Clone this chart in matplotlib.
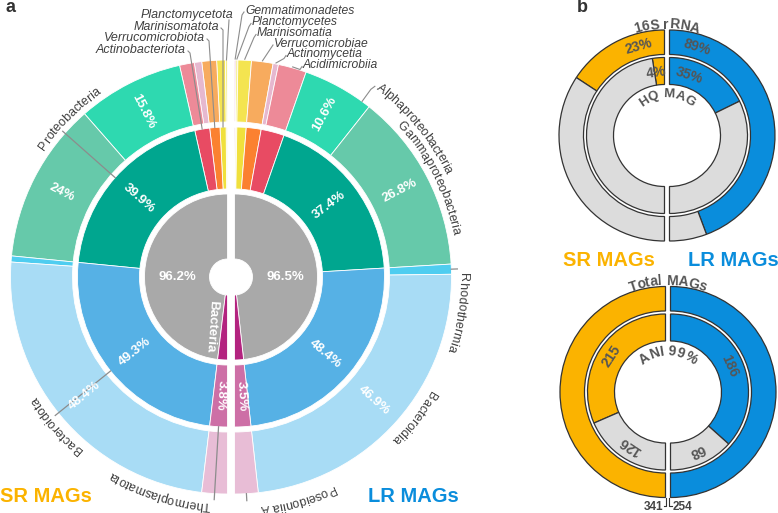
import numpy as np
import matplotlib
matplotlib.use('Agg')
import matplotlib.pyplot as plt
from matplotlib.patches import Wedge
from matplotlib.font_manager import FontProperties
from matplotlib.textpath import TextToPath

plt.rcParams['font.family'] = ['Liberation Sans', 'DejaVu Sans']

# ---------------- panel a : taxonomy of MAGs (% of MAGs) ----------------
domains = ['Bacteria', 'Archaea']
sr_domain = [96.2, 3.8]
lr_domain = [96.5, 3.5]

phyla = ['Gemmatimonadota', 'Planctomycetota', 'Marinisomatota', 'Verrucomicrobiota',
         'Actinobacteriota', 'Proteobacteria', 'Bacteroidota', 'Thermoplasmatota']
sr_phylum = [0.0, 0.3, 1.3, 2.2, 3.2, 39.9, 49.3, 3.8]
lr_phylum = [0.2, 0.3, 2.0, 3.2, 5.0, 37.4, 48.4, 3.5]

classes = ['Gemmatimonadetes', 'Planctomycetes', 'Marinisomatia', 'Verrucomicrobiae',
           'Actinomycetia', 'Acidimicrobiia', 'Alphaproteobacteria', 'Gammaproteobacteria',
           'Rhodothermia', 'Bacteroidia', 'Poseidoniia A']
sr_class = [0.0, 0.3, 1.3, 2.2, 1.1, 2.2, 15.8, 24.0, 0.9, 48.4, 3.8]
lr_class = [0.2, 0.3, 2.0, 3.2, 0.8, 4.2, 10.6, 26.8, 1.5, 46.9, 3.5]

domain_col = {'Bacteria': '#a9a9a9', 'Archaea': '#b3237f'}
phylum_col = {'Gemmatimonadota': '#d63c96', 'Planctomycetota': '#f3ee8c',
              'Marinisomatota': '#f0e03c', 'Verrucomicrobiota': '#fb8130',
              'Actinobacteriota': '#e84b63', 'Proteobacteria': '#00a68f',
              'Bacteroidota': '#56b1e5', 'Thermoplasmatota': '#cd6fa6'}
class_col = {'Gemmatimonadetes': '#d850a0', 'Planctomycetes': '#f3ee8c',
             'Marinisomatia': '#f4e450', 'Verrucomicrobiae': '#f7ab5e',
             'Actinomycetia': '#e6b8cf', 'Acidimicrobiia': '#ed8a98',
             'Alphaproteobacteria': '#2ed9b0', 'Gammaproteobacteria': '#66c9aa',
             'Rhodothermia': '#4fcdf0', 'Bacteroidia': '#a8dcf5', 'Poseidoniia A': '#e8bdd6'}

show_pct = {'Bacteria', 'Proteobacteria', 'Bacteroidota', 'Thermoplasmatota',
            'Alphaproteobacteria', 'Gammaproteobacteria', 'Bacteroidia'}

# ---------------- panel b : SR vs LR MAGs ----------------
rrna_sr = [31.5, 68.5]     # 16S rRNA recovered (drawn share), label 23%
rrna_lr = [88.6, 11.4]
hq_sr = [5, 95]            # HQ MAG
hq_lr = [35.5, 64.5]
rrna_txt = ['23%', '89%']
hq_txt = ['4%', '35%']
total_sr = [341]
total_lr = [254]
ani_sr = [215, 126]        # MAGs shared at ANI 99% / unique
ani_lr = [186, 68]

SR = '#fbb300'
LR = '#0a8ddc'
GREY = '#dcdcdc'
TXT = '#555555'

fig = plt.figure(figsize=(7.78, 5.13), dpi=100)
ax = fig.add_axes([0, 0, 1, 1])
ax.set_xlim(0, 778)
ax.set_ylim(0, 513)
ax.axis('off')

ttp = TextToPath()
PX = 100 / 72


def str_w(s, fp):
    w, _, _ = ttp.get_text_width_height_descent(s + '|', fp, ismath=False)
    w0, _, _ = ttp.get_text_width_height_descent('|', fp, ismath=False)
    return (w - w0) * PX


def arc_text(cx, cy, r, ang, s, size, weight='normal', style='normal', color='#444444'):
    # text along a circle, read clockwise, letters' tops pointing outward
    fp = FontProperties(family=plt.rcParams['font.family'], size=size, weight=weight, style=style)
    lefts = [str_w(s[:i], fp) for i in range(len(s) + 1)]
    total = lefts[-1]
    for i, ch in enumerate(s):
        if ch == ' ':
            continue
        mid = (lefts[i] + lefts[i + 1]) / 2 - total / 2
        t = np.radians(ang) - mid / r
        ax.text(cx + r * np.cos(t), cy + r * np.sin(t), ch, rotation=np.degrees(t) - 90,
                rotation_mode='anchor', ha='center', va='baseline', fontsize=size,
                fontweight=weight, fontstyle=style, color=color)


def half_ring(cx, cy, r_in, r_out, values, colors, side, ec='white', lw=0.6):
    total = sum(values)
    start = 90.0
    mids = []
    for v, c in zip(values, colors):
        span = v / total * 180
        if side > 0:
            t1, t2 = start - span, start
            start -= span
        else:
            t1, t2 = start, start + span
            start += span
        if v > 0:
            ax.add_patch(Wedge((cx, cy), r_out, t1, t2, width=r_out - r_in,
                               fc=c, ec=ec, lw=lw))
        mids.append((t1 + t2) / 2)
    return mids


def pol(cx, cy, r, ang):
    t = np.radians(ang)
    return cx + r * np.cos(t), cy + r * np.sin(t)


def radial_label(cx, cy, r, ang, s, size=9.5):
    a = (ang + 180) % 360 - 180
    rot = a
    if a > 85:
        rot = a - 180
    elif a < -95:
        rot = a + 180
    x, y = pol(cx, cy, r, ang)
    ax.text(x, y, s, rotation=rot, rotation_mode='anchor', ha='center', va='center',
            fontsize=size, fontweight='bold', color='white')


# ---------------- draw panel a ----------------
CX, CY = 231, 236
rings = [(18, 83), (88, 150), (155, 217)]
centers = {-1: (CX - 3.5, CY), 1: (CX + 3.5, CY)}
mids = {}
for side, dom, phy, cla in [(-1, sr_domain, sr_phylum, sr_class),
                            (1, lr_domain, lr_phylum, lr_class)]:
    cx, cy = centers[side]
    for (r0, r1), names, vals, cols in [(rings[0], domains, dom, domain_col),
                                        (rings[1], phyla, phy, phylum_col),
                                        (rings[2], classes, cla, class_col)]:
        m = half_ring(cx, cy, r0, r1, vals, [cols[n] for n in names], side)
        for n, v, a in zip(names, vals, m):
            mids[(side, n)] = a
            if n in show_pct:
                if n == 'Bacteria':
                    a = 180 if side < 0 else 0
                radial_label(cx, cy, (r0 + r1) / 2, a, f'{v:g}%')

# "Bacteria" label in the inner ring
ax.text(211.5, 187, 'Bacteria', rotation=-94, ha='center', va='center',
        fontsize=9.5, fontweight='bold', color='white')

LINE = '#8c8c8c'
# top labels, left: phyla of SR assembly
left_top = [('Planctomycetota', 233, 498), ('Marinisomatota', 219, 486),
            ('Verrucomicrobiota', 205, 475), ('Actinobacteriota', 186, 463)]
lcx, lcy = centers[-1]
for name, x, y in left_top:
    ax.text(x, y, name, ha='right', va='center', fontsize=9, fontstyle='italic', color='#404040')
    r = 217 if name == 'Planctomycetota' else 150
    tx, ty = pol(lcx, lcy, r, mids[(-1, name)])
    if name == 'Planctomycetota':
        ax.plot([x - 4, tx], [y - 5, ty], color=LINE, lw=0.8)
    else:
        ax.plot([x + 2, x + 4, tx], [y - 1, y - 3, ty], color=LINE, lw=0.8)

# top labels, right: classes of LR assembly
right_top = [('Gemmatimonadetes', 245, 502), ('Planctomycetes', 252, 490.5),
             ('Marinisomatia', 257, 479.5), ('Verrucomicrobiae', 274, 469),
             ('Actinomycetia', 287, 458.5), ('Acidimicrobiia', 303, 447.5)]
rcx, rcy = centers[1]
for name, x, y in right_top:
    ax.text(x, y, name, ha='left', va='center', fontsize=8.7, fontstyle='italic', color='#404040')
    tx, ty = pol(rcx, rcy, 218, mids[(1, name)])
    ax.plot([x - 1, x - 3, tx], [y - 1, y - 4, ty], color=LINE, lw=0.8)

# curved labels around panel a
for side, name, ang, r in [(-1, 'Proteobacteria', 135, 223), (-1, 'Bacteroidota', -139, 225),
                           (-1, 'Thermoplasmatota', -107.5, 226),
                           (1, 'Alphaproteobacteria', 39.5, 235),
                           (1, 'Gammaproteobacteria', 27, 222), (1, 'Rhodothermia', -9, 225),
                           (1, 'Bacteroidia', -38, 226), (1, 'Poseidoniia A', -74, 230)]:
    cx, cy = centers[side]
    arc_text(cx, cy, r, ang, name, 9, color='#404040')

# leader lines for curved labels
for side, name, r0, r1 in [(-1, 'Proteobacteria', 150, 220), (-1, 'Bacteroidota', 150, 221),
                           (-1, 'Thermoplasmatota', 150, 223), (1, 'Rhodothermia', 217, 223),
                           (1, 'Poseidoniia A', 217, 224)]:
    cx, cy = centers[side]
    x0, y0 = pol(cx, cy, r0, mids[(side, name)])
    x1, y1 = pol(cx, cy, r1, mids[(side, name)])
    ax.plot([x0, x1], [y0, y1], color=LINE, lw=0.9)
x0, y0 = pol(rcx, rcy, 217, 54)
x1, y1 = pol(rcx, rcy, 232, 54)
ax.plot([x0, x1, x1 + 4], [y0, y1, y1 + 3], color=LINE, lw=0.8)

ax.text(0, 16, 'SR MAGs', ha='left', va='center', fontsize=14.5, fontweight='bold', color=SR)
ax.text(368, 16, 'LR MAGs', ha='left', va='center', fontsize=14.5, fontweight='bold', color=LR)
ax.text(6, 505, 'a', ha='left', va='center', fontsize=13, fontweight='bold', color='#333333')

# ---------------- draw panel b ----------------
EC = '#333333'
b_rings = [(51, 78), (81, 105.5)]

# top donut: 16S rRNA (outer) and HQ MAG (inner)
bx, by = 667, 377.5
for side, outer, inner, col, i in [(-1, rrna_sr, hq_sr, SR, 0), (1, rrna_lr, hq_lr, LR, 1)]:
    cx = bx + 2.5 * side
    half_ring(cx, by, *b_rings[1], outer, [col, GREY], side, ec=EC, lw=0.9)
    half_ring(cx, by, *b_rings[0], inner, [col, GREY], side, ec=EC, lw=0.9)
    d_out = 16 if side < 0 else 17
    d_in = 8 if side < 0 else 18
    for r, d, s in [(92.5, d_out, rrna_txt[i]), (63.5, d_in, hq_txt[i])]:
        a = 90 + d if side < 0 else 90 - d
        x, y = pol(cx, by, r, a)
        ax.text(x, y, s, rotation=a - 90, rotation_mode='anchor', ha='center', va='center',
                fontsize=10, fontweight='bold', color=TXT)
arc_text(bx, by, 107, 90, '16S rRNA', 10, weight='bold', color=TXT)
arc_text(bx, by, 38, 90, 'HQ MAG', 9.5, weight='bold', color=TXT)

# bottom donut: total MAGs (outer) and ANI 99% (inner)
bx2, by2 = 668, 121
for side, outer, inner, col in [(-1, total_sr, ani_sr, SR), (1, total_lr, ani_lr, LR)]:
    cx = bx2 + 2.5 * side
    half_ring(cx, by2, *b_rings[1], outer, [col], side, ec=EC, lw=0.9)
    m = half_ring(cx, by2, *b_rings[0], inner, [col, GREY], side, ec=EC, lw=0.9)
    for v, a in zip(inner, m):
        x, y = pol(cx, by2, 64.5, a)
        ax.text(x, y, str(v), rotation=a - 90, rotation_mode='anchor', ha='center', va='center',
                fontsize=10, fontweight='bold', color=TXT)
arc_text(bx2, by2, 107, 90, 'Total MAGs', 10, weight='bold', color=TXT)
arc_text(bx2, by2, 37, 90, 'ANI 99%', 10, weight='bold', color=TXT)

# totals under the donut
ax.plot([bx2 - 1.5, bx2 - 1.5, bx2 - 4], [15, 7, 7], color=EC, lw=0.8)
ax.plot([bx2 + 1.5, bx2 + 1.5, bx2 + 4], [15, 7, 7], color=EC, lw=0.8)
ax.text(bx2 - 5, 6, str(total_sr[0]), ha='right', va='center', fontsize=8.5,
        fontweight='bold', color='#444444')
ax.text(bx2 + 5, 6, str(total_lr[0]), ha='left', va='center', fontsize=8.5,
        fontweight='bold', color='#444444')

ax.text(563, 253, 'SR MAGs', ha='left', va='center', fontsize=14.5, fontweight='bold', color=SR)
ax.text(688, 253, 'LR MAGs', ha='left', va='center', fontsize=14.5, fontweight='bold', color=LR)
ax.text(577, 505, 'b', ha='left', va='center', fontsize=13, fontweight='bold', color='#333333')

fig.savefig('out.png', dpi=100)
